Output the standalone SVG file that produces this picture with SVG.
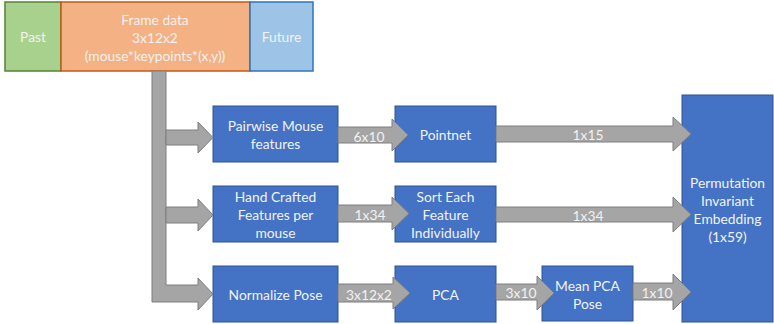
<svg xmlns="http://www.w3.org/2000/svg" width="774" height="324" viewBox="0 0 774 324">
<style>
.box{fill:#4472C4;stroke:#2F528F;stroke-width:1}
.arr{fill:#A5A5A5;stroke:#7F7F7F;stroke-width:1}
text{font-family:Lato,"Liberation Sans",sans-serif;font-size:13.8px;fill:#F2F2F2;text-anchor:middle;dominant-baseline:central}
</style>
<rect width="774" height="324" fill="#fff"/>
<g id="past"><rect x="5" y="2" width="56" height="69" fill="#A9D18E" stroke="#548235" stroke-width="1.5"/><text x="33" y="36.5">Past</text></g>
<g id="frame"><rect x="61" y="2" width="189" height="69" fill="#F4B183" stroke="#C55A11" stroke-width="1.5"/><text x="155" y="19">Frame data</text><text x="155" y="37">3x12x2</text><text x="155" y="55">(mouse*keypoints*(x,y))</text></g>
<g id="future"><rect x="250" y="2" width="63" height="69" fill="#9DC3E6" stroke="#2E75B6" stroke-width="1.5"/><text x="281.5" y="36.5">Future</text></g>
<g id="pairwise"><rect class="box" x="213" y="106" width="125" height="56"/><text x="275.5" y="125">Pairwise Mouse</text><text x="275.5" y="143">features</text></g>
<g id="pointnet"><rect class="box" x="395" y="106" width="101" height="56"/><text x="445.5" y="134">Pointnet</text></g>
<g id="handcrafted"><rect class="box" x="213" y="186" width="125" height="56"/><text x="275.5" y="196">Hand Crafted</text><text x="275.5" y="214">Features per</text><text x="275.5" y="232">mouse</text></g>
<g id="sort"><rect class="box" x="395" y="186" width="101" height="56"/><text x="445.5" y="196">Sort Each</text><text x="445.5" y="214">Feature</text><text x="445.5" y="232">Individually</text></g>
<g id="normalize"><rect class="box" x="213" y="266" width="125" height="56"/><text x="275.5" y="294">Normalize Pose</text></g>
<g id="pca"><rect class="box" x="395" y="266" width="101" height="56"/><text x="445.5" y="294">PCA</text></g>
<g id="meanpca"><rect class="box" x="542" y="266" width="91" height="55"/><text x="587.5" y="285">Mean PCA</text><text x="587.5" y="303">Pose</text></g>
<g id="embedding"><rect class="box" x="682" y="95" width="91" height="227"/><text x="727.5" y="182">Permutation</text><text x="727.5" y="200">Invariant</text><text x="727.5" y="218">Embedding</text><text x="727.5" y="236">(1x59)</text></g>
<g id="connectors">
<path class="arr" d="M152 71 H166 V285 H198 V278 L213 294 L198 310 V302 H152 Z"/>
<path class="arr" d="M166 130 H198 V122 L213 137.5 L198 153 V145 H166 Z"/>
<path class="arr" d="M166 207 H198 V199 L213 215 L198 231 V223 H166 Z"/>
<path class="arr" d="M338 127 H392 V119 L408 135 L392 151 V143 H338 Z"/>
<path class="arr" d="M338 205 H392 V197 L409 213.5 L392 230 V222 H338 Z"/>
<path class="arr" d="M338 284 H393 V277 L410 293 L393 309 V302 H338 Z"/>
<path class="arr" d="M496 126 H673 V117 L691 134 L673 151 V142 H496 Z"/>
<path class="arr" d="M496 207 H673 V197 L691 214.5 L673 232 V222 H496 Z"/>
<path class="arr" d="M496 284 H537 V276 L554 293 L537 310 V300 H496 Z"/>
<path class="arr" d="M633 283 H673 V274 L691 292 L673 310 V300 H633 Z"/>
<text x="369" y="136">6x10</text>
<text x="370" y="214.5">1x34</text>
<text x="369" y="294">3x12x2</text>
<text x="588" y="134">1x15</text>
<text x="588" y="215.5">1x34</text>
<text x="521" y="292.5">3x10</text>
<text x="657" y="292">1x10</text>
</g>
</svg>
